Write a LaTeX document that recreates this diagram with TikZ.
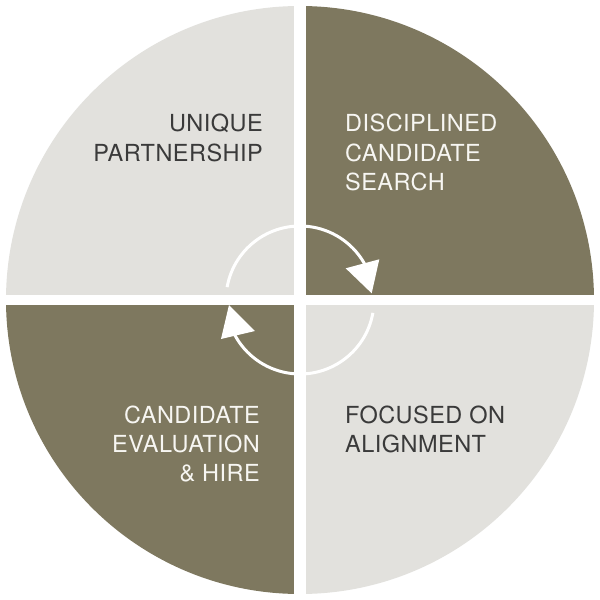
\documentclass[tikz,border=0pt]{standalone}
\usepackage{fontspec}
\setmainfont{TeX Gyre Heros}[LetterSpace=2]
\definecolor{olive}{HTML}{7E785F}
\definecolor{lightq}{HTML}{E2E1DD}
\definecolor{darktxt}{HTML}{3A3A3A}
\definecolor{lighttxt}{HTML}{F7F6F2}
\begin{document}
\begin{tikzpicture}[x=1pt,y=1pt,
  quad/.style={line width=0pt},
  lbl/.style={inner sep=0pt, font=\fontsize{23.5}{29}\selectfont},
  lbldark/.style={lbl, text=darktxt},
  lbllight/.style={lbl, text=lighttxt},
  cyclearc/.style={draw=white, line width=3pt},
  tiphead/.style={fill=white}]
\useasboundingbox (-300,-300) rectangle (300,300);
\fill[white] (-300,-300) rectangle (300,300);
% quadrants
\fill[lightq] (0,0) -- (180:294) arc[start angle=180, end angle=90, radius=294] -- cycle;
\fill[olive]  (0,0) -- (90:294) arc[start angle=90, end angle=0, radius=294] -- cycle;
\fill[lightq] (0,0) -- (0:294) arc[start angle=0, end angle=-90, radius=294] -- cycle;
\fill[olive]  (0,0) -- (-90:294) arc[start angle=-90, end angle=-180, radius=294] -- cycle;
% gaps
\fill[white] (-6,-300) rectangle (6,300);
\fill[white] (-300,-5) rectangle (300,5);
% cycle arrows
\draw[cyclearc] (170:74) arc[start angle=170, end angle=28, radius=74];
\fill[tiphead] (71.7,6.7) -- (45.7,31.7) -- (79.3,40.7) -- cycle;
\draw[cyclearc] (350:74) arc[start angle=350, end angle=208, radius=74];
\fill[tiphead] (-71,-5) -- (-79,-39) -- (-45,-31) -- cycle;
% labels
\node[lbldark, anchor=base east] (u1) at (-37,168) {UNIQUE};
\node[lbldark, anchor=base east] (u2) at (-37,139) {PARTNERSHIP};
\node[lbllight, anchor=base west] (d1) at (45,168) {DISCIPLINED};
\node[lbllight, anchor=base west] (d2) at (45,139) {CANDIDATE};
\node[lbllight, anchor=base west] (d3) at (45,110) {SEARCH};
\node[lbldark, anchor=base west] (f1) at (45,-123) {FOCUSED ON};
\node[lbldark, anchor=base west] (f2) at (45,-152) {ALIGNMENT};
\node[lbllight, anchor=base east] (c1) at (-40,-123) {CANDIDATE};
\node[lbllight, anchor=base east] (c2) at (-40,-152) {EVALUATION};
\node[lbllight, anchor=base east] (c3) at (-40,-181) {\& HIRE};
\end{tikzpicture}
\end{document}
